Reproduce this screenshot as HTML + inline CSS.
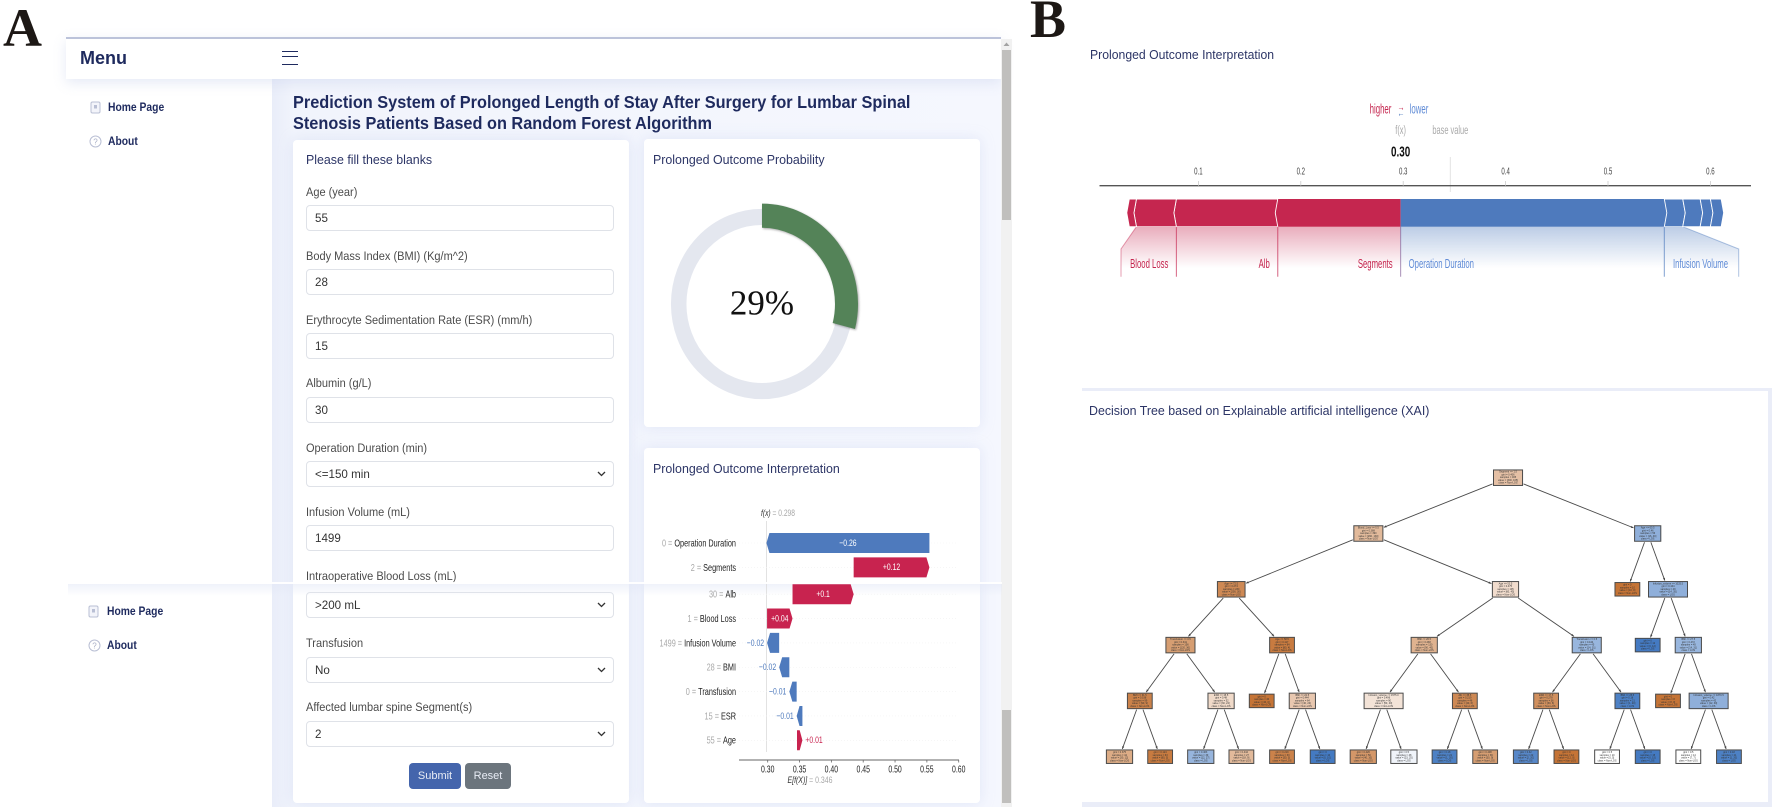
<!DOCTYPE html>
<html lang="en">
<head>
<meta charset="utf-8">
<title>Prolonged Length of Stay Prediction System</title>
<style>
html,body{margin:0;padding:0;background:#fff;}
body{width:1772px;height:807px;position:relative;overflow:hidden;font-family:"Liberation Sans",sans-serif;}
.abs{position:absolute;}
.panel-letter{position:absolute;font-family:"Liberation Serif",serif;font-weight:bold;color:#1d1815;line-height:1;}
.main-bg{position:absolute;left:272px;top:79px;width:729px;height:728px;background:linear-gradient(90deg,#e9edf9 0,#f1f4fc 22px,#f5f7fe 100%);}
.card{position:absolute;background:#fff;border-radius:4px;box-shadow:0 0 14px rgba(190,200,235,.35);}
.nav{position:absolute;left:66px;top:37px;width:935px;height:42px;background:#fff;border-top:2px solid #bcc3da;box-sizing:border-box;box-shadow:0 4px 12px rgba(200,208,235,.45);}
.nav-title{position:absolute;left:80px;top:47px;font-size:18px;font-weight:bold;color:#1e2a5e;line-height:22px;}
.burger{position:absolute;left:282px;top:51px;width:16px;height:14px;border-top:1.5px solid #1e2a5e;border-bottom:1.5px solid #1e2a5e;box-sizing:border-box;}
.burger:after{content:"";position:absolute;left:0;right:0;top:4px;border-top:1.5px solid #1e2a5e;}
.side-link{position:absolute;font-size:12px;font-weight:bold;color:#1e2a5e;line-height:14px;white-space:nowrap;transform:scaleX(.86);transform-origin:0 50%;}
.page-title{position:absolute;left:293px;top:92px;font-size:17.5px;line-height:20.5px;font-weight:bold;color:#1e2a5e;white-space:nowrap;transform:scaleX(.932);transform-origin:0 50%;}
.card-title{position:absolute;font-size:13.2px;color:#2c3566;line-height:16px;white-space:nowrap;transform:scaleX(.94);transform-origin:0 50%;}
.label{position:absolute;left:306px;font-size:12.4px;color:#4b4b4b;line-height:14px;white-space:nowrap;transform:scaleX(.888);transform-origin:0 50%;}
.field{position:absolute;left:306px;width:308px;height:26px;box-sizing:border-box;border:1px solid #dfe2e8;border-radius:4px;background:#fff;font:11.6px "Liberation Sans",sans-serif;color:#333;padding:0 8px;margin:0;outline:none;appearance:none;-webkit-appearance:none;}
.chev{position:absolute;left:597px;width:9px;height:6px;}
.btn{position:absolute;top:763px;height:26px;border:0;border-radius:4px;color:#e8ecf5;font:11px "Liberation Sans",sans-serif;padding:0;}
.track{position:absolute;left:1001px;top:39px;width:11px;height:768px;background:#f1f1f1;}
.thumb{position:absolute;left:1002px;width:9px;background:#c0bfbd;}
.seam{position:absolute;left:68px;top:582px;width:934px;height:2px;background:rgba(255,255,255,.92);z-index:5;}
.seam-shadow{position:absolute;left:68px;top:584px;width:934px;height:12px;background:linear-gradient(180deg,rgba(226,231,246,.55),rgba(226,231,246,0));z-index:2;}
.sep{position:absolute;background:#eaedf8;}
#charts{position:absolute;left:0;top:0;z-index:3;}
#charts text{font-family:"Liberation Sans",sans-serif;}
</style>
</head>
<body>

<div class="panel-letter" style="left:3px;top:1px;font-size:54px;">A</div>
<div class="panel-letter" style="left:1030px;top:-8px;font-size:54px;">B</div>

<div class="main-bg"></div>
<div class="nav"></div>
<div class="nav-title">Menu</div>
<div class="burger"></div>

<svg class="abs" style="left:90px;top:101px" width="11" height="13"><rect x="1" y="1" width="9" height="11" rx="1.5" fill="#f3f4fa" stroke="#b9bfd4"/><rect x="4" y="4" width="3" height="3.5" fill="#b9bfd4"/></svg>
<div class="side-link" style="left:108px;top:100px;">Home Page</div>
<svg class="abs" style="left:89px;top:135px" width="13" height="13"><circle cx="6.5" cy="6.5" r="5.5" fill="none" stroke="#b9bfd4"/><text x="6.5" y="9.5" font-size="8" text-anchor="middle" fill="#a8aec6">?</text></svg>
<div class="side-link" style="left:108px;top:134px;">About</div>

<svg class="abs" style="left:88px;top:605px" width="11" height="13"><rect x="1" y="1" width="9" height="11" rx="1.5" fill="#f3f4fa" stroke="#b9bfd4"/><rect x="4" y="4" width="3" height="3.5" fill="#b9bfd4"/></svg>
<div class="side-link" style="left:107px;top:604px;">Home Page</div>
<svg class="abs" style="left:88px;top:639px" width="13" height="13"><circle cx="6.5" cy="6.5" r="5.5" fill="none" stroke="#b9bfd4"/><text x="6.5" y="9.5" font-size="8" text-anchor="middle" fill="#a8aec6">?</text></svg>
<div class="side-link" style="left:107px;top:638px;">About</div>

<div class="page-title">Prediction System of Prolonged Length of Stay After Surgery for Lumbar Spinal<br>Stenosis Patients Based on Random Forest Algorithm</div>

<div class="card" style="left:293px;top:140px;width:336px;height:663px;"></div>
<div class="card-title" style="left:306px;top:152px;">Please fill these blanks</div>

<div class="label" style="top:185px;">Age (year)</div>
<input class="field" style="top:205px;" value="55">
<div class="label" style="top:249px;">Body Mass Index (BMI) (Kg/m^2)</div>
<input class="field" style="top:269px;" value="28">
<div class="label" style="top:313px;">Erythrocyte Sedimentation Rate (ESR) (mm/h)</div>
<input class="field" style="top:333px;" value="15">
<div class="label" style="top:376px;">Albumin (g/L)</div>
<input class="field" style="top:397px;" value="30">
<div class="label" style="top:441px;">Operation Duration (min)</div>
<select class="field" style="top:461px;"><option>&lt;=150 min</option></select>
<svg class="chev" style="top:471px" viewBox="0 0 9 6"><path d="M1 1l3.5 3.5L8 1" fill="none" stroke="#333" stroke-width="1.3"/></svg>
<div class="label" style="top:505px;">Infusion Volume (mL)</div>
<input class="field" style="top:525px;" value="1499">
<div class="label" style="top:569px;">Intraoperative Blood Loss (mL)</div>
<select class="field" style="top:592px;"><option>&gt;200 mL</option></select>
<svg class="chev" style="top:602px" viewBox="0 0 9 6"><path d="M1 1l3.5 3.5L8 1" fill="none" stroke="#333" stroke-width="1.3"/></svg>
<div class="label" style="top:636px;">Transfusion</div>
<select class="field" style="top:657px;"><option>No</option></select>
<svg class="chev" style="top:667px" viewBox="0 0 9 6"><path d="M1 1l3.5 3.5L8 1" fill="none" stroke="#333" stroke-width="1.3"/></svg>
<div class="label" style="top:700px;">Affected lumbar spine Segment(s)</div>
<select class="field" style="top:721px;"><option>2</option></select>
<svg class="chev" style="top:731px" viewBox="0 0 9 6"><path d="M1 1l3.5 3.5L8 1" fill="none" stroke="#333" stroke-width="1.3"/></svg>
<button class="btn" style="left:409px;width:52px;background:#4465ac;">Submit</button>
<button class="btn" style="left:465px;width:46px;background:#6c757d;">Reset</button>

<div class="card" style="left:644px;top:139px;width:336px;height:288px;"></div>
<div class="card-title" style="left:653px;top:152px;">Prolonged Outcome Probability</div>
<div class="card" style="left:644px;top:448px;width:336px;height:355px;"></div>
<div class="card-title" style="left:653px;top:461px;">Prolonged Outcome Interpretation</div>

<div class="track"></div>
<svg class="abs" style="left:1003px;top:42px" width="7" height="5"><path d="M0.5 4L3.5 0.5L6.5 4Z" fill="#a3a3a3"/></svg>
<div class="thumb" style="top:50px;height:170px;"></div>
<div class="thumb" style="top:710px;height:93px;"></div>

<div class="card-title" style="left:1090px;top:47px;font-size:13px;">Prolonged Outcome Interpretation</div>
<div class="sep" style="left:1082px;top:388px;width:690px;height:3px;"></div>
<div class="card-title" style="left:1089px;top:403px;font-size:13.2px;">Decision Tree based on Explainable artificial intelligence (XAI)</div>
<div class="sep" style="left:1082px;top:802px;width:690px;height:5px;"></div>
<div class="sep" style="left:1768px;top:391px;width:4px;height:416px;"></div>

<svg id="charts" width="1772" height="807" viewBox="0 0 1772 807" xmlns="http://www.w3.org/2000/svg">
  <defs>
    <linearGradient id="fadeRed" x1="0" y1="0" x2="0" y2="1"><stop offset="0" stop-color="#c5264f" stop-opacity=".38"/><stop offset="1" stop-color="#c5264f" stop-opacity="0"/></linearGradient>
    <linearGradient id="fadeBlue" x1="0" y1="0" x2="0" y2="1"><stop offset="0" stop-color="#4e7abd" stop-opacity=".38"/><stop offset="1" stop-color="#4e7abd" stop-opacity="0"/></linearGradient>
  </defs>
  <g id="donut"></g>
  <g id="waterfall" style="filter:blur(.3px)"></g>
  <g id="force" style="filter:blur(.3px)"></g>
  <g id="tree" style="filter:blur(.3px)"></g>
</svg>

<div class="seam"></div>
<div class="seam-shadow"></div>

<script>
/* ---------- donut data ---------- */
const donutPercent = 29;

/* ---------- waterfall data (top to bottom) ---------- */
const wfFeatures = ['Operation Duration','Segments','Alb','Blood Loss','Infusion Volume','BMI','Transfusion','ESR','Age'];
const wfFeatureValues = ['0','2','30','1','1499','28','0','15','55'];
const wfShap = [-0.256,0.119,0.096,0.04,-0.019,-0.016,-0.0115,-0.009,0.0085];
const wfPrinted = ['\u22120.26','+0.12','+0.1','+0.04','\u22120.02','\u22120.02','\u22120.01','\u22120.01','+0.01'];
const wfTicks = [0.30,0.35,0.40,0.45,0.50,0.55,0.60];
const wfBase = 0.346;
const wfOutput = 0.298;

/* ---------- force plot data ---------- */
const forceOutput = 0.2975;
const forceBase = 0.346;
const forceTicks = [0.1,0.2,0.3,0.4,0.5,0.6];
const forcePosNames = ['Segments','Alb','Blood Loss',''];
const forcePosValues = [0.12,0.099,0.039,0.007];
const forceNegNames = ['Operation Duration','Infusion Volume','','',''];
const forceNegValues = [0.2575,0.018,0.017,0.01,0.0105];

/* ---------- decision tree data (pre-order) ---------- */
const treeLevels = [0,1,2,3,4,5,5,4,5,5,3,4,4,5,5,2,3,4,5,5,4,5,5,3,4,5,5,4,5,5,1,2,2,3,3,4,4,5,5];
const treeFeatures = ['Segment <= 1.5','Blood_Loss <= 0.5','Age <= 72.5','Transfusion <= 0.5','BMI <= 31.5','','','ESR <= 15.5','','','Age <= 58.5','','BMI <= 22.5','','','Age <= 53.5','BMI <= 26.5','Infusion_volume <= 1575.0','','','Alb <= 35.5','','','Transfusion <= 0.5','ESR <= 17.5','','','BMI <= 25.5','','','Age <= 60.5','','Infusion_volume <= 1025.5','','BMI <= 27.5','','Infusion_volume <= 1870.5','',''];
const treeGini = [0.406,0.388,0.274,0.341,0.198,0.375,0.124,0.48,0.463,0.444,0.117,0,0.444,0.219,0,0.475,0.438,0.496,0.426,0.5,0.219,0.18,0.408,0.444,0.278,0.32,0,0.18,0.5,0,0.46,0,0.444,0,0.472,0,0.42,0.5,0.18];
const treeClass0 = [300,260,200,120,90,30,60,30,12,18,80,40,40,30,0,60,90,50,40,23,40,1,30,14,30,2,12,1,5,0,16,10,14,0,14,8,12,7,1];
const treeClass1 = [165,130,30,36,9,12,3,22,27,9,4,0,24,3,10,45,40,40,10,25,6,20,9,31,6,20,0,20,5,15,40,0,35,12,31,0,30,7,20];

/* ---------- helpers ---------- */
const SVGNS = 'http://www.w3.org/2000/svg';
function mk(tag, parent, attrs){
  const el = document.createElementNS(SVGNS, tag);
  for (const k in attrs) el.setAttribute(k, attrs[k]);
  parent.appendChild(el);
  return el;
}
function label(parent, str, x, y, size, fill, anchor, sx, weight){
  const t = mk('text', parent, {
    transform: 'translate(' + x + ',' + y + ') scale(' + (sx || 1) + ',1)',
    'font-size': size, fill: fill, 'text-anchor': anchor || 'start',
    'dominant-baseline': 'central', 'font-weight': weight || 'normal'
  });
  t.textContent = str;
  return t;
}

/* ---------- donut ---------- */
(function(){
  const g = document.getElementById('donut');
  const cx = 762, cy = 304, stretch = 1.045;
  const inner = mk('g', g, {transform: 'translate(' + cx + ',' + cy + ') scale(1,' + stretch + ')'});
  const ring = mk('circle', inner, {cx:0, cy:0, r:83.3, fill:'none', stroke:'#e4e7ef', 'stroke-width':15.5});
  
  
  const a = donutPercent / 100 * 2 * Math.PI;
  const R = 84.5;
  const ex = R * Math.sin(a), ey = -R * Math.cos(a);
  const arc = mk('path', inner, {
    d: 'M0 ' + (-R) + 'A' + R + ' ' + R + ' 0 ' + (donutPercent > 50 ? 1 : 0) + ' 1 ' + ex + ' ' + ey,
    fill: 'none', stroke: '#548358', 'stroke-width': 23,
    style: 'filter:drop-shadow(1px 1px 1px rgba(60,60,60,.45))'
  });
  
  
  const t = mk('text', g, {x:cx, y:303, 'text-anchor':'middle', 'dominant-baseline':'central', 'font-size':35, fill:'#111', style:'font-family:"Liberation Serif",serif'});
  t.textContent = donutPercent + '%';
  
  
})();

/* ---------- waterfall ---------- */
(function(){
  const g = document.getElementById('waterfall');
  const xOf = v => 767.7 + (v - 0.30) * 636.7;
  const yOf = i => 543 + i * 24.35 + (i >= 2 ? 2.5 : 0);
  const RED = '#c8234f', BLUE = '#4e7abd';
  const vline = mk('line', g, {x1:xOf(wfOutput), x2:xOf(wfOutput), y1:521, y2:752, stroke:'#dcdcdc', 'stroke-width':.8});
  
  
  const fxLabel = mk('text', g, {x:778, y:513, 'font-size':9, 'text-anchor':'middle', 'dominant-baseline':'central', fill:'#a8a8a8', textLength:34, lengthAdjust:'spacingAndGlyphs'});
  const fxName = mk('tspan', fxLabel, {fill:'#333', 'font-style':'italic'});
  fxName.textContent = 'f(x)';
  mk('tspan', fxLabel, {}).textContent = ' = ' + wfOutput;
  
  
  let cum = wfBase;
  const spans = [];
  for (let i = wfShap.length - 1; i >= 0; i--){ spans[i] = [cum, cum + wfShap[i]]; cum += wfShap[i]; }
  wfShap.forEach(function(s, i){
    const y = yOf(i), x0 = xOf(spans[i][0]), x1 = xOf(spans[i][1]);
    const dir = s >= 0 ? 1 : -1, w = Math.abs(x1 - x0), h = 10, head = Math.min(3, w * 0.5);
    const guide = mk('line', g, {x1:739, x2:958, y1:y, y2:y, stroke:'#f1f1f1', 'stroke-width':.6, 'stroke-dasharray':'1 2'});
    
    
    const bar = mk('path', g, {
      d: 'M' + x0 + ' ' + (y - h) + 'L' + (x1 - dir * head) + ' ' + (y - h) + 'L' + x1 + ' ' + y + 'L' + (x1 - dir * head) + ' ' + (y + h) + 'L' + x0 + ' ' + (y + h) + 'Z',
      fill: s >= 0 ? RED : BLUE
    });
    
    
    const rowLabel = mk('text', g, {transform:'translate(736,' + y + ') scale(.73,1)', 'font-size':10, 'text-anchor':'end', 'dominant-baseline':'central', fill:'#a9a9a9'});
    rowLabel.textContent = wfFeatureValues[i] + ' = ';
    const nameSpan = mk('tspan', rowLabel, {fill:'#222'});
    nameSpan.textContent = wfFeatures[i];
    
    
    let val;
    if (w > 20) val = label(g, wfPrinted[i], (x0 + x1) / 2, y, 9.5, '#fff', 'middle', .72);
    else if (dir < 0) val = label(g, wfPrinted[i], x1 - 3, y, 9.5, BLUE, 'end', .72);
    else val = label(g, wfPrinted[i], x1 + 3, y, 9.5, RED, 'start', .72);
    
    
  });
  const axis = mk('line', g, {x1:739, x2:959, y1:760, y2:760, stroke:'#666', 'stroke-width':1.1});
  
  
  wfTicks.forEach(function(v){
    const tick = mk('line', g, {x1:xOf(v), x2:xOf(v), y1:760, y2:762.5, stroke:'#666', 'stroke-width':.8});
    
    
    const tl = label(g, v.toFixed(2), xOf(v), 769, 10, '#222', 'middle', .69);
    
    
  });
  const baseLabel = mk('text', g, {x:810, y:780, 'font-size':9, 'text-anchor':'middle', 'dominant-baseline':'central', fill:'#a8a8a8', textLength:45, lengthAdjust:'spacingAndGlyphs'});
  const baseName = mk('tspan', baseLabel, {fill:'#333', 'font-style':'italic'});
  baseName.textContent = 'E[f(X)]';
  mk('tspan', baseLabel, {}).textContent = ' = ' + wfBase;
  
  
})();

/* ---------- force plot ---------- */
(function(){
  const g = document.getElementById('force');
  const xOf = v => 1198.4 + (v - 0.1) * 1024;
  const RED = '#c5264f', BLUE = '#4e7abd';
  const top = 199, bot = 226.7, mid = (top + bot) / 2;
  const yFade = 268, yEnd = 276.7;
  const t1 = label(g, 'higher', 1380.5, 110, 14, RED, 'middle', .56);
  
  
  const t2a = label(g, '\u2192', 1401, 107, 10, RED, 'middle', .7);
  
  
  const t2b = label(g, '\u2190', 1401, 113, 10, BLUE, 'middle', .7);
  
  
  const t3 = label(g, 'lower', 1419, 110, 14, '#5f8bd6', 'middle', .56);
  
  
  const t4 = label(g, 'f(x)', xOf(forceOutput), 131, 12, '#a9a9a9', 'middle', .62);
  
  
  const t5 = label(g, 'base value', xOf(forceBase), 131, 12, '#a9a9a9', 'middle', .62);
  
  
  const t6 = label(g, forceOutput.toFixed(2), xOf(forceOutput), 152, 15, '#111', 'middle', .66, 'bold');
  
  
  const bl = mk('line', g, {x1:xOf(forceBase), x2:xOf(forceBase), y1:157, y2:192, stroke:'#e2e2e2', 'stroke-width':1});
  
  
  const ax = mk('line', g, {x1:1099.5, x2:1751, y1:185.7, y2:185.7, stroke:'#555', 'stroke-width':1.3});
  
  
  forceTicks.forEach(function(v){
    const tk = mk('line', g, {x1:xOf(v), x2:xOf(v), y1:181, y2:185.7, stroke:'#ccc', 'stroke-width':.8});
    
    
    const tl = label(g, String(v), xOf(v), 171, 10.5, '#444', 'middle', .58);
    
    
  });

  function drawSide(values, names, dir, color, fade){
    let cur = forceOutput;
    values.forEach(function(val, i){
      const next = cur + dir * val;
      const xa = xOf(cur), xb = xOf(next);
      const tipA = i === 0 ? 0 : 2.5, tipB = 2.5;
      const seg = mk('path', g, {
        d: 'M' + xa + ' ' + top + 'L' + xb + ' ' + top + 'L' + (xb + dir * tipB) + ' ' + mid + 'L' + xb + ' ' + bot + 'L' + xa + ' ' + bot + 'L' + (xa + dir * tipA) + ' ' + mid + 'Z',
        fill: color, stroke: '#fff', 'stroke-width': i === 0 ? 0 : .9
      });
      
      
      if (names[i]) {
        const wide = names[i] === 'Infusion Volume' || names[i] === 'Blood Loss';
        const lx = names[i] === 'Infusion Volume' ? 1738.7 : names[i] === 'Blood Loss' ? 1121 : xb;
        const p = wide
          ? 'M' + xa + ' ' + bot + 'L' + xb + ' ' + bot + 'L' + lx + ' 249L' + lx + ' ' + yFade + 'L' + xa + ' ' + yFade + 'Z'
          : 'M' + xa + ' ' + bot + 'L' + xb + ' ' + bot + 'L' + xb + ' ' + yFade + 'L' + xa + ' ' + yFade + 'Z';
        const area = mk('path', g, {d:p, fill:'url(#' + fade + ')'});
        
        
        const edge = mk('path', g, {
          d: 'M' + xb + ' ' + bot + (wide ? 'L' + lx + ' 249' : '') + 'L' + lx + ' ' + yEnd,
          fill: 'none', stroke: color, 'stroke-opacity': .45, 'stroke-width': 1
        });
        
        
        const edge0 = mk('line', g, {x1:xa, x2:xa, y1:bot, y2:yEnd, stroke:color, 'stroke-opacity':.4, 'stroke-width':1});
        
        
        const tx = dir < 0 ? xa - 8 : xa + 8;
        const txt = label(g, names[i], names[i] === 'Infusion Volume' ? 1673 : tx, 265, 12.5, color === RED ? RED : '#5f8bd6', dir < 0 ? 'end' : 'start', .62);
        
        
      }
      cur = next;
    });
  }
  drawSide(forcePosValues, forcePosNames, -1, RED, 'fadeRed');
  drawSide(forceNegValues, forceNegNames, 1, BLUE, 'fadeBlue');
})();

/* ---------- decision tree ---------- */
(function(){
  const g = document.getElementById('tree');
  const maxLevel = 5, slot = 40.63, firstX = 1119.5, topY = 477.7, levelGap = 55.8;
  const n = treeLevels.length;
  const kids = treeLevels.map(() => []);
  const stack = [];
  treeLevels.forEach(function(l, i){
    stack.length = l;
    if (l > 0) kids[stack[l - 1]].push(i);
    stack[l] = i;
  });
  const xs = new Array(n);
  let nextSlot = 0;
  function place(i){
    if (!kids[i].length){
      if (treeLevels[i] === maxLevel) { xs[i] = firstX + slot * nextSlot; nextSlot++; }
      return;
    }
    const l = kids[i][0], r = kids[i][1];
    place(l); place(r);
    if (xs[l] === undefined) xs[l] = xs[r] - slot;
    if (xs[r] === undefined) xs[r] = xs[l] + slot;
    xs[i] = (xs[l] + xs[r]) / 2;
  }
  place(0);
  const lines = i => {
    const out = [];
    if (treeFeatures[i]) out.push(treeFeatures[i]);
    out.push('gini = ' + treeGini[i]);
    out.push('samples = ' + (treeClass0[i] + treeClass1[i]));
    out.push('value = [' + treeClass0[i] + ', ' + treeClass1[i] + ']');
    out.push('class = ' + (treeClass0[i] >= treeClass1[i] ? 'Non-LOS' : 'LOS'));
    return out;
  };
  const widthOf = i => Math.max.apply(null, lines(i).map(s => s.length)) * 1.42 + 3.5;
  const heightOf = i => treeFeatures[i] ? 15.5 : 13.5;
  const yOf = i => topY + treeLevels[i] * levelGap;
  function fillOf(i){
    const a = treeClass0[i], b = treeClass1[i];
    const alpha = 1 - Math.min(a, b) / Math.max(a, b);
    const base = a >= b ? [197, 116, 54] : [68, 122, 194];
    const c = base.map(v => Math.round(255 + (v - 255) * alpha));
    return 'rgb(' + c.join(',') + ')';
  }
  function clip(i, fromX, fromY){
    const dx = xs[i] - fromX, dy = yOf(i) - fromY;
    const hw = widthOf(i) / 2 + 1, hh = heightOf(i) / 2 + 1;
    const t = Math.min(hw / Math.abs(dx || 1e-6), hh / Math.abs(dy || 1e-6));
    return [xs[i] - dx * t, yOf(i) - dy * t];
  }
  for (let i = 0; i < n; i++){
    kids[i].forEach(function(c){
      const a = clip(i, xs[c], yOf(c));
      const b = clip(c, xs[i], yOf(i));
      const e = mk('line', g, {x1:a[0], y1:a[1], x2:b[0], y2:b[1], stroke:'#4a4a4a', 'stroke-width':.9});
      
      
      const ang = Math.atan2(b[1] - a[1], b[0] - a[0]);
      const s = 2.6, w = 1.1;
      const px = b[0] - s * Math.cos(ang), py = b[1] - s * Math.sin(ang);
      const head = mk('path', g, {
        d: 'M' + b[0] + ' ' + b[1] + 'L' + (px - w * Math.sin(ang)) + ' ' + (py + w * Math.cos(ang)) + 'L' + (px + w * Math.sin(ang)) + ' ' + (py - w * Math.cos(ang)) + 'Z',
        fill: '#444'
      });
      
      
    });
  }
  for (let i = 0; i < n; i++){
    const w = widthOf(i), h = heightOf(i), x = xs[i], y = yOf(i);
    const box = mk('rect', g, {x:x - w / 2, y:y - h / 2, width:w, height:h, fill:fillOf(i), stroke:'#4a4a4a', 'stroke-width':1});
    
    
    const ls = lines(i);
    ls.forEach(function(s, k){
      const t = mk('text', g, {x:x, y:y + (k - (ls.length - 1) / 2) * 2.75, 'font-size':2.5, 'text-anchor':'middle', 'dominant-baseline':'central', fill:'#333'});
      t.textContent = s;
      
      
    });
  }
})();
</script>
</body>
</html>
